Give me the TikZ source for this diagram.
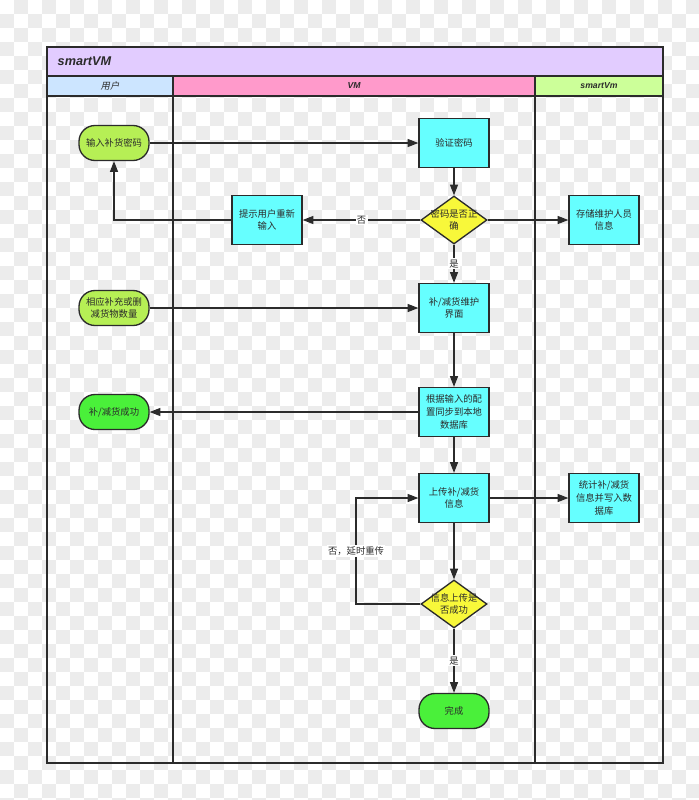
\documentclass[tikz,border=0pt]{standalone}
\usepackage{fontspec}
\usepackage{tikz}
\usetikzlibrary{shapes.geometric, arrows.meta}
\setmainfont{Liberation Sans}
\newfontfamily\cjk{Noto Sans CJK SC}
\newfontfamily\cjkit[FakeSlant=0.2]{Noto Sans CJK SC}

\definecolor{titlebg}{HTML}{E2CCFF}
\definecolor{userbg}{HTML}{CCE5FF}
\definecolor{vmbg}{HTML}{FF9ACB}
\definecolor{svmbg}{HTML}{CCFF99}
\definecolor{boxcyan}{HTML}{66FFFF}
\definecolor{termlime}{HTML}{B6EF55}
\definecolor{termgreen}{HTML}{4AF03A}
\definecolor{decyellow}{HTML}{F8F83A}
\definecolor{checkgray}{HTML}{ECECEC}
\definecolor{ink}{HTML}{2B2B2B}

\begin{document}
\begin{tikzpicture}[x=0.75pt, y=-0.75pt,
    every node/.style={font=\cjk\fontsize{7}{9.5}\selectfont, text=ink, align=center},
    process/.style={rectangle, draw=ink, line width=1pt, fill=boxcyan,
        minimum width=52.5pt, minimum height=36.75pt, inner sep=1pt},
    terminal/.style={rectangle, rounded corners=12pt, draw=ink, line width=1pt,
        minimum width=52.5pt, minimum height=26.25pt, inner sep=1pt},
    decision/.style={diamond, draw=ink, line width=1pt, fill=decyellow,
        minimum width=49.5pt, minimum height=36pt, inner sep=0pt},
    flow/.style={draw=ink, line width=0.9pt, -{Triangle[length=8pt, width=6pt]}},
    lbl/.style={fill=white, inner sep=1pt},
    lane/.style={draw=ink, line width=1.1pt}]

    \useasboundingbox (0,0) rectangle (699,800);

    % transparent-style background
    \foreach \j in {0,...,57} {
        \pgfmathsetmacro\off{mod(\j,2)*14}
        \foreach \i in {14,42,...,714}
            \fill[checkgray] (\i-\off,\j*14) rectangle ++(14,14);
    }

    % pool and lanes
    \fill[titlebg] (47,47) rectangle (663,76);
    \fill[userbg] (47,76) rectangle (173,96);
    \fill[vmbg] (173,76) rectangle (535,96);
    \fill[svmbg] (535,76) rectangle (663,96);
    \draw[lane] (47,47) rectangle (663,763);
    \draw[lane] (47,76) -- (663,76);
    \draw[lane] (47,96) -- (663,96);
    \draw[lane] (173,76) -- (173,763);
    \draw[lane] (535,76) -- (535,763);

    \node[anchor=west, font=\bfseries\itshape\fontsize{9.5}{11}\selectfont] (pool) at (53,61.5) {smartVM};
    \node[font=\cjkit\fontsize{7}{8}\selectfont] (hUser) at (110,86) {用户};
    \node[font=\bfseries\itshape\fontsize{6.5}{8}\selectfont] (hVM) at (354,86) {VM};
    \node[font=\bfseries\itshape\fontsize{6.5}{8}\selectfont] (hSVM) at (599,86) {smartVm};

    % user lane
    \node[terminal, fill=termlime] (pwd) at (114,143) {输入补货密码};
    \node[terminal, fill=termlime] (qty) at (114,308) {相应补充或删\\减货物数量};
    \node[terminal, fill=termgreen] (ok) at (114,412) {补/减货成功};

    % VM lane
    \node[process] (verify) at (454,143) {验证密码};
    \node[decision, label={[align=center]center:密码是否正\\确}] (check) at (454,220) {};
    \node[process] (retry) at (267,220) {提示用户重新\\输入};
    \node[process] (maint) at (454,308) {补/减货维护\\界面};
    \node[process] (sync) at (454,412) {根据输入的配\\置同步到本地\\数据库};
    \node[process] (upload) at (454,498) {上传补/减货\\信息};
    \node[decision, label={[align=center]center:信息上传是\\否成功}] (sent) at (454,604) {};
    \node[terminal, fill=termgreen] (done) at (454,711) {完成};

    % smartVm lane
    \node[process] (store) at (604,220) {存储维护人员\\信息};
    \node[process] (stats) at (604,498) {统计补/减货\\信息并写入数\\据库};

    \coordinate (loop) at (356,604);

    % connectors
    \draw[flow] (pwd) -- (verify);
    \draw[flow] (verify) -- (check);
    \draw[flow] (check) -- node[lbl] {否} (retry);
    \draw[flow] (retry.west) -| (pwd.south);
    \draw[flow] (check) -- (store);
    \draw[flow] (check) -- node[lbl] {是} (maint);
    \draw[flow] (qty) -- (maint);
    \draw[flow] (maint) -- (sync);
    \draw[flow] (sync) -- (ok);
    \draw[flow] (sync) -- (upload);
    \draw[flow] (upload) -- (stats);
    \draw[flow] (upload) -- (sent);
    \draw[flow] (sent.west) -- (loop) |- node[lbl, pos=0.25] {否，延时重传} (upload.west);
    \draw[flow] (sent) -- node[lbl] {是} (done);
\end{tikzpicture}
\end{document}
